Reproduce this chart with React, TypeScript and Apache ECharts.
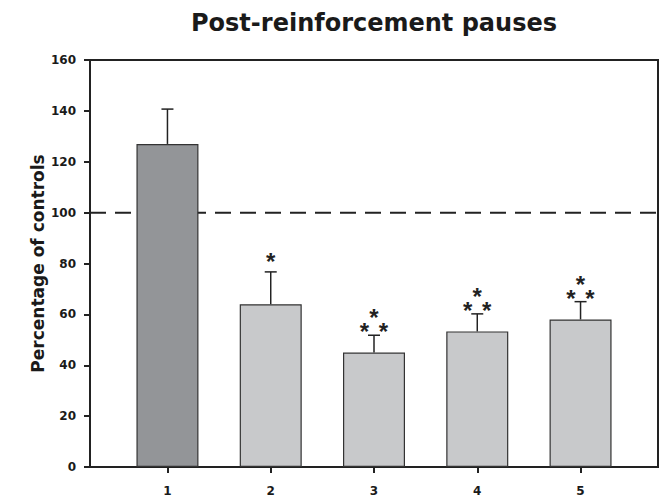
import React, { useEffect, useRef } from "react";
import * as echarts from "echarts";

const titleText = "Post-reinforcement pauses";
const yAxisName = "Percentage of controls";
const categories = [1, 2, 3, 4, 5];
const means = [127, 64, 45, 53.3, 58];
const errTops = [140.7, 76.7, 51.8, 60.2, 65];
const starCounts = [0, 1, 3, 3, 3];
const barColors = ["#939598", "#c8c9cb", "#c8c9cb", "#c8c9cb", "#c8c9cb"];
const referenceLevel = 100;
const yTicks = [0, 20, 40, 60, 80, 100, 120, 140, 160];

export default function App() {
  const ref = useRef<HTMLDivElement>(null);
  useEffect(() => {
    if (!ref.current) return;
    const chart = echarts.init(ref.current, null, { renderer: "svg" });
    const font = "'DejaVu Sans', Verdana, sans-serif";
    chart.setOption({
      animation: false,
      title: {
        text: titleText,
        left: 369,
        textAlign: "center",
        top: 6,
        textStyle: { fontFamily: font, fontWeight: "bold", fontSize: 24, color: "#1a1a1a" },
      },
      grid: {
        left: 90,
        right: 7,
        top: 60,
        bottom: 33,
        show: true,
        borderColor: "#222",
        borderWidth: 2,
        backgroundColor: "transparent",
      },
      xAxis: {
        type: "value",
        min: 0.25,
        max: 5.75,
        splitLine: { show: false },
        axisLine: { show: true, lineStyle: { color: "#222", width: 2 } },
        axisTick: { show: true, customValues: categories, length: 6, lineStyle: { color: "#222", width: 2 } },
        axisLabel: {
          customValues: categories,
          margin: 18,
          fontFamily: font,
          fontWeight: "bold",
          fontSize: 12,
          color: "#1a1a1a",
        },
      },
      yAxis: {
        type: "value",
        min: 0,
        max: 160,
        interval: 20,
        name: yAxisName,
        nameLocation: "middle",
        nameGap: 44,
        nameMoveOverlap: false,
        nameTextStyle: { fontFamily: font, fontWeight: "bold", fontSize: 17, color: "#1a1a1a" },
        splitLine: { show: false },
        axisLine: { show: true, lineStyle: { color: "#222", width: 2 } },
        axisTick: { show: true, length: 6, lineStyle: { color: "#222", width: 2 } },
        axisLabel: {
          customValues: yTicks,
          margin: 14,
          fontFamily: font,
          fontWeight: "bold",
          fontSize: 12,
          color: "#1a1a1a",
        },
      },
      series: [
        {
          type: "line",
          z: 1,
          symbol: "none",
          silent: true,
          data: [[0.25, referenceLevel], [5.75, referenceLevel]],
          lineStyle: { color: "#222", width: 2, type: [16, 9] },
        },
        {
          type: "bar",
          z: 2,
          barWidth: 62,
          data: categories.map((c, i) => ({
            value: [c, means[i]],
            itemStyle: { color: barColors[i], borderColor: "#333", borderWidth: 1.2 },
          })),
        },
        {
          type: "custom",
          z: 3,
          data: categories.map((c, i) => [c, means[i], errTops[i], starCounts[i]]),
          renderItem: (params: any, api: any) => {
            const x = api.value(0);
            const v = api.value(1);
            const e = api.value(2);
            const n = api.value(3);
            const p0 = api.coord([x, v]);
            const p1 = api.coord([x, e]);
            const ls = { stroke: "#222", lineWidth: 1.5 };
            const children: any[] = [
              { type: "line", shape: { x1: p0[0], y1: p0[1], x2: p1[0], y2: p1[1] }, style: ls },
              { type: "line", shape: { x1: p1[0] - 6, y1: p1[1], x2: p1[0] + 6, y2: p1[1] }, style: ls },
            ];
            const star = (sx: number, sy: number) => ({
              type: "text",
              style: {
                text: "*",
                x: sx,
                y: sy,
                align: "center",
                verticalAlign: "middle",
                font: "bold 24px 'Liberation Sans', Arial, sans-serif",
                fill: "#222",
              },
            });
            if (n === 1) {
              children.push(star(p1[0], p1[1] - 10));
            } else if (n === 3) {
              children.push(star(p1[0], p1[1] - 17.5));
              children.push(star(p1[0] - 9.5, p1[1] - 3.5));
              children.push(star(p1[0] + 9.5, p1[1] - 3.5));
            }
            return { type: "group", children };
          },
        },
      ],
    });
    return () => chart.dispose();
  }, []);
  return <div ref={ref} style={{ position: "absolute", left: 0, top: 0, width: 665, height: 500 }} />;
}
